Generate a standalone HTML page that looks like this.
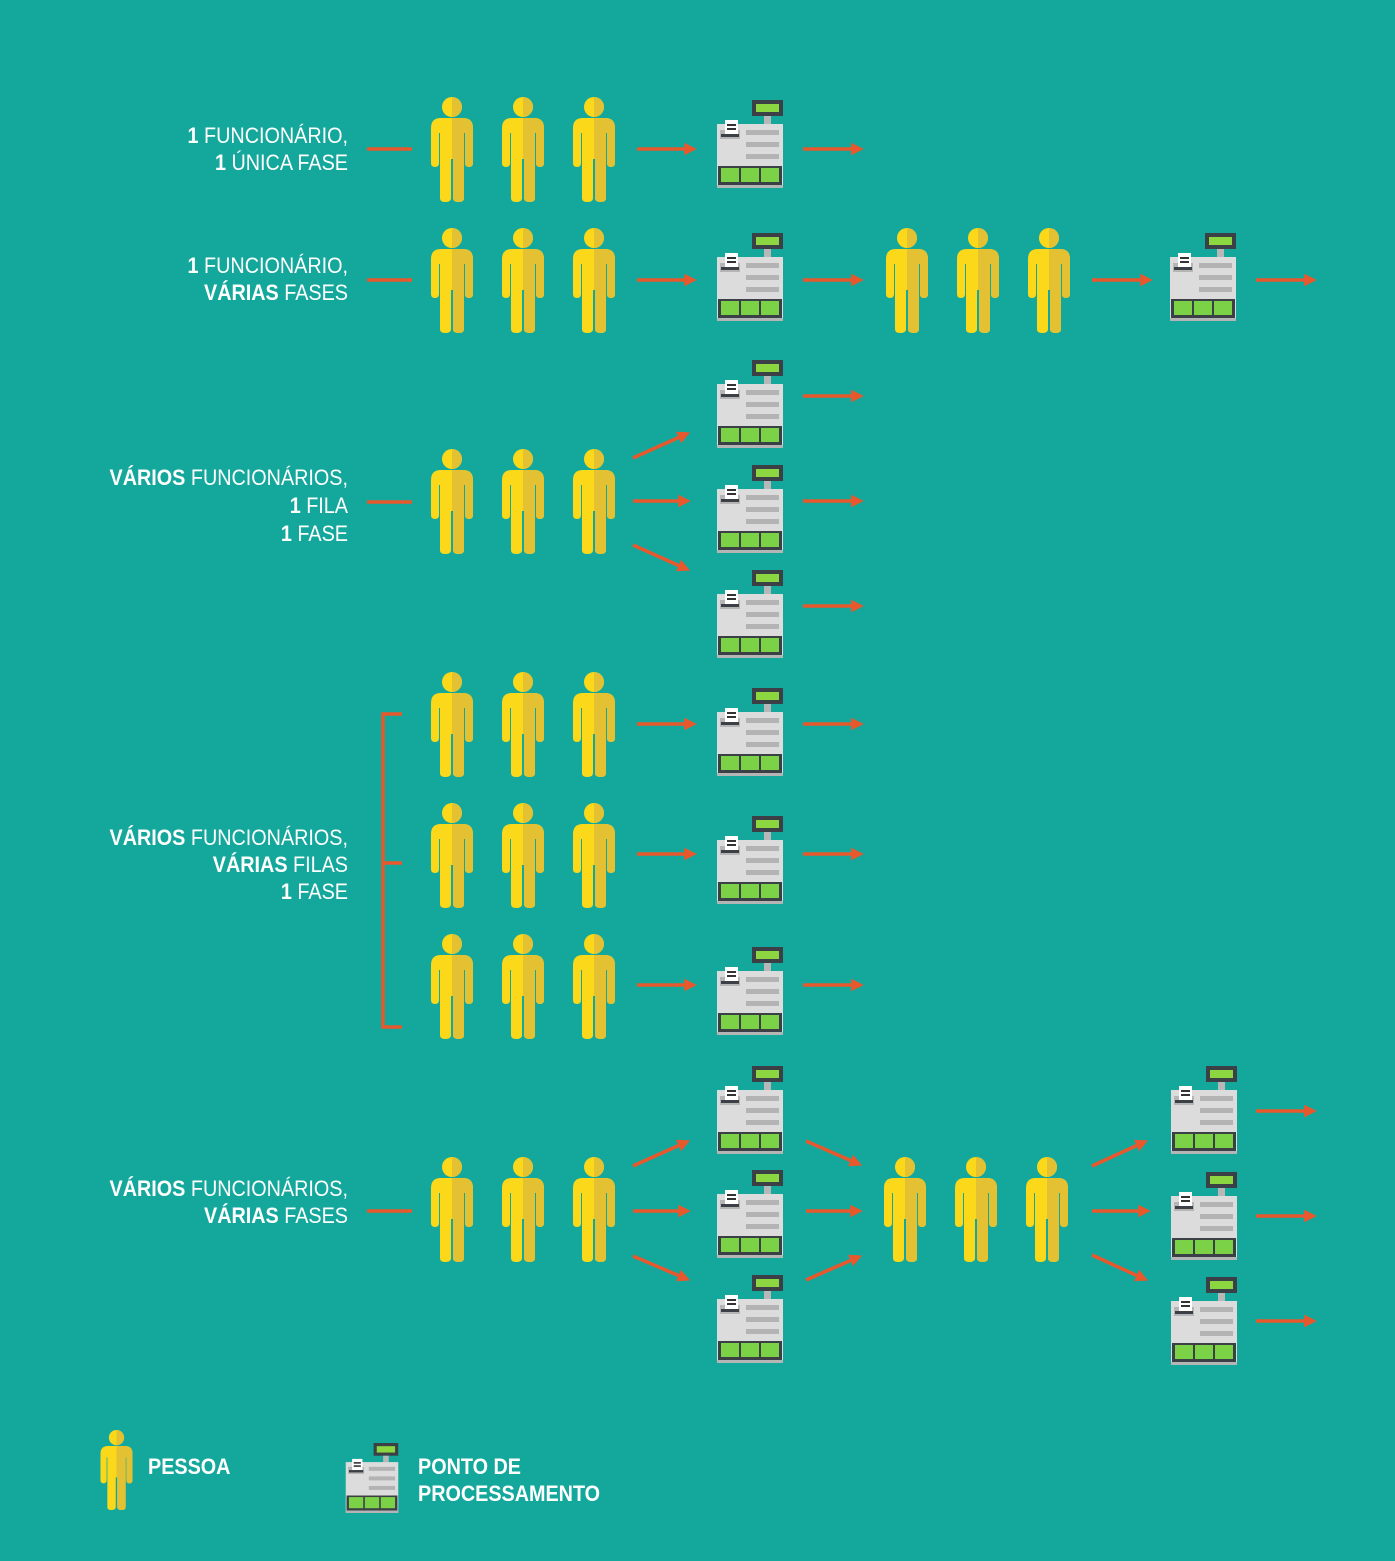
<!DOCTYPE html>
<html><head><meta charset="utf-8"><style>
html,body{margin:0;padding:0;background:#14a89c;}
svg{display:block;}
text{font-family:"Liberation Sans Narrow","Liberation Sans",sans-serif;fill:#fff;}
</style></head><body>
<svg id="s" width="1395" height="1561" viewBox="0 0 1395 1561" xmlns="http://www.w3.org/2000/svg">
<defs>
  <clipPath id="rh"><rect x="21" y="0" width="30" height="110"/></clipPath>
  <g id="pshape">
    <circle cx="21" cy="10" r="10"/>
    <path d="M10 21 H32 Q42 21 42 31 V66 Q42 70 38 70 Q34 70 34 66 V36 H33 V101 Q33 105 28 105 Q22 105 22 101 V62 H20 V101 Q20 105 14 105 Q9 105 9 101 V36 H8 V66 Q8 70 4 70 Q0 70 0 66 V31 Q0 21 10 21 Z"/>
  </g>
  <symbol id="person" viewBox="0 0 42 105" overflow="visible">
    <use href="#pshape" fill="#fbd91a"/>
    <use href="#pshape" fill="#e3c133" clip-path="url(#rh)"/>
  </symbol>
  <symbol id="register" viewBox="0 0 66 88" overflow="visible">
    <rect x="35" y="0" width="31" height="16" fill="#3b4046"/>
    <rect x="39" y="4" width="23" height="8" fill="#8cd641"/>
    <rect x="47" y="16" width="7" height="8" fill="#b8b8b8"/>
    <rect x="0" y="24" width="66" height="64" fill="#dcdcdc"/>
    <rect x="3" y="30" width="20" height="9" fill="#b5b5b5"/>
    <rect x="8" y="20" width="13" height="15" fill="#fff"/>
    <rect x="10" y="24" width="9" height="2" fill="#333"/>
    <rect x="10" y="28" width="9" height="2" fill="#333"/>
    <rect x="4" y="34" width="18" height="3" fill="#3b4046"/>
    <rect x="29" y="30" width="33" height="5" fill="#b3b3b3"/>
    <rect x="29" y="42" width="33" height="5" fill="#b3b3b3"/>
    <rect x="29" y="54" width="33" height="5" fill="#b3b3b3"/>
    <rect x="1" y="66" width="64" height="19" fill="#3b4046"/>
    <rect x="4" y="68" width="18" height="14" fill="#7cd246"/>
    <rect x="24" y="68" width="18" height="14" fill="#7cd246"/>
    <rect x="44" y="68" width="18" height="14" fill="#7cd246"/>
    <rect x="0" y="85" width="66" height="3" fill="#b5b5b5"/>
  </symbol>
  <marker id="ah" viewBox="0 0 10 10" refX="3" refY="5" markerWidth="3.6" markerHeight="3.6" orient="auto">
    <path d="M0 0 L10 5 L0 10 Z" fill="#e8582d"/>
  </marker>
</defs>
<g id="marks"></g>
<g id="labels">
  <text transform="translate(348,143) scale(0.9,1)" text-anchor="end" font-size="22"><tspan font-weight="bold">1</tspan> FUNCIONÁRIO,</text>
  <text transform="translate(348,170) scale(0.9,1)" text-anchor="end" font-size="22"><tspan font-weight="bold">1</tspan> ÚNICA FASE</text>
  <text transform="translate(348,273) scale(0.9,1)" text-anchor="end" font-size="22"><tspan font-weight="bold">1</tspan> FUNCIONÁRIO,</text>
  <text transform="translate(348,300) scale(0.9,1)" text-anchor="end" font-size="22"><tspan font-weight="bold">VÁRIAS</tspan> FASES</text>
  <text transform="translate(348,485) scale(0.9,1)" text-anchor="end" font-size="22"><tspan font-weight="bold">VÁRIOS</tspan> FUNCIONÁRIOS,</text>
  <text transform="translate(348,513) scale(0.9,1)" text-anchor="end" font-size="22"><tspan font-weight="bold">1</tspan> FILA</text>
  <text transform="translate(348,541) scale(0.9,1)" text-anchor="end" font-size="22"><tspan font-weight="bold">1</tspan> FASE</text>
  <text transform="translate(348,845) scale(0.9,1)" text-anchor="end" font-size="22"><tspan font-weight="bold">VÁRIOS</tspan> FUNCIONÁRIOS,</text>
  <text transform="translate(348,872) scale(0.9,1)" text-anchor="end" font-size="22"><tspan font-weight="bold">VÁRIAS</tspan> FILAS</text>
  <text transform="translate(348,899) scale(0.9,1)" text-anchor="end" font-size="22"><tspan font-weight="bold">1</tspan> FASE</text>
  <text transform="translate(348,1196) scale(0.9,1)" text-anchor="end" font-size="22"><tspan font-weight="bold">VÁRIOS</tspan> FUNCIONÁRIOS,</text>
  <text transform="translate(348,1223) scale(0.9,1)" text-anchor="end" font-size="22"><tspan font-weight="bold">VÁRIAS</tspan> FASES</text>
</g>
<g id="legend">
  <use href="#person" x="100" y="1430" width="33" height="80"/>
  <text transform="translate(148,1474) scale(0.9,1)" font-size="22" font-weight="bold">PESSOA</text>
  <use href="#register" x="345" y="1443" width="54" height="70"/>
  <text transform="translate(418,1474) scale(0.9,1)" font-size="22" font-weight="bold">PONTO DE</text>
  <text transform="translate(418,1501) scale(0.9,1)" font-size="22" font-weight="bold">PROCESSAMENTO</text>
</g>
</svg>
<script>
const NS = "http://www.w3.org/2000/svg";
// people: [x, top]
const people = [
 [431,97],[502,97],[573,97],
 [431,228],[502,228],[573,228],[886,228],[957,228],[1028,228],
 [431,449],[502,449],[573,449],
 [431,672],[502,672],[573,672],[431,803],[502,803],[573,803],[431,934],[502,934],[573,934],
 [431,1157],[502,1157],[573,1157],[884,1157],[955,1157],[1026,1157]
];
// registers: [x, top]
const registers = [
 [717,100],[717,233],[1170,233],
 [717,360],[717,465],[717,570],
 [717,688],[717,816],[717,947],
 [717,1066],[717,1170],[717,1275],[1171,1066],[1171,1172],[1171,1277]
];
// arrows: [x1,y1,x2,y2,hasHead]
const arrows = [
 [367,149,412,149,0],[637,149,688,149,1],[803,149,855,149,1],
 [367,280,412,280,0],[637,280,688,280,1],[803,280,855,280,1],[1092,280,1144,280,1],[1256,280,1308,280,1],
 [367,502,412,502,0],[633,458,682,436,1],[633,501,682,501,1],[633,545,682,567,1],
 [803,396,855,396,1],[803,501,855,501,1],[803,606,855,606,1],
 [637,724,688,724,1],[637,854,688,854,1],[637,985,688,985,1],
 [803,724,855,724,1],[803,854,855,854,1],[803,985,855,985,1],
 [367,1211,412,1211,0],[633,1166,682,1144,1],[633,1211,682,1211,1],[633,1256,682,1277,1],
 [806,1141,854,1162,1],[806,1211,854,1211,1],[806,1280,854,1259,1],
 [1092,1166,1140,1144,1],[1092,1211,1142,1211,1],[1092,1255,1140,1277,1],
 [1256,1111,1308,1111,1],[1256,1216,1308,1216,1],[1256,1321,1308,1321,1]
];
const g = document.getElementById('marks');
arrows.forEach(function(a,i){
  const l = document.createElementNS(NS,'line');
  l.setAttribute('x1',a[0]);l.setAttribute('y1',a[1]);l.setAttribute('x2',a[2]);l.setAttribute('y2',a[3]);
  l.setAttribute('stroke','#e8582d');l.setAttribute('stroke-width','3.5');
  if(a[4]) l.setAttribute('marker-end','url(#ah)');
  
  
  g.appendChild(l);
});
// bracket
const br = document.createElementNS(NS,'path');
br.setAttribute('d','M402 714 H383 V1027 H402 M383 863 H402');
br.setAttribute('stroke','#e8582d');br.setAttribute('stroke-width','3.5');br.setAttribute('fill','none');


g.appendChild(br);
people.forEach(function(p){
  const u = document.createElementNS(NS,'use');
  u.setAttribute('href','#person');u.setAttribute('x',p[0]);u.setAttribute('y',p[1]);
  u.setAttribute('width',42);u.setAttribute('height',105);
  
  
  g.appendChild(u);
});
registers.forEach(function(r){
  const u = document.createElementNS(NS,'use');
  u.setAttribute('href','#register');u.setAttribute('x',r[0]);u.setAttribute('y',r[1]);
  u.setAttribute('width',66);u.setAttribute('height',88);
  
  
  g.appendChild(u);
});
</script>
</body></html>
